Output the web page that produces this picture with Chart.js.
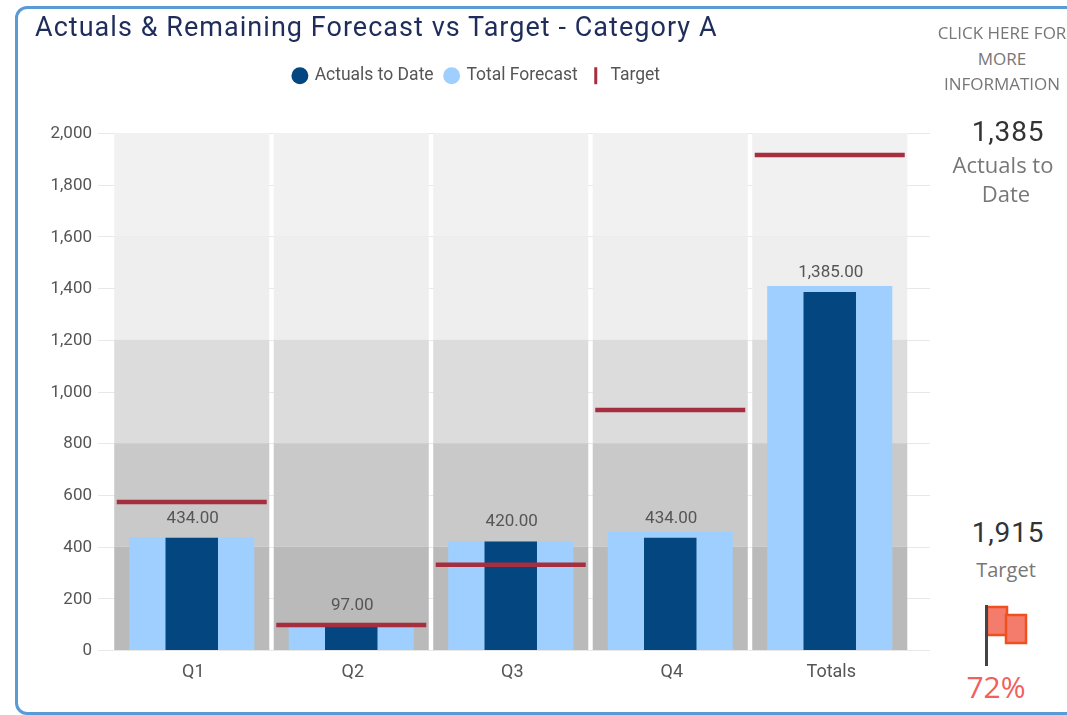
<!DOCTYPE html>
<html><head><meta charset="utf-8">
<script src="https://cdn.jsdelivr.net/npm/chart.js@4/dist/chart.umd.min.js"></script>
<style>
html,body{margin:0;padding:0;background:#fff;width:1067px;height:715px;overflow:hidden;font-family:Roboto,sans-serif}
#frame{position:absolute;left:15px;top:6px;width:1100px;height:703px;border:3px solid #5b9bd5;border-radius:12px;box-sizing:content-box}
#c{position:absolute;left:0;top:0}
.t{position:absolute;white-space:nowrap;transform:translate(-50%,-50%);line-height:1}
#title{position:absolute;left:35px;top:27px;transform:translateY(-50%);font-size:27px;color:#1f2d5a;white-space:nowrap;line-height:1;letter-spacing:1.04px}
</style></head><body>
<div id="frame"></div>
<canvas id="c" width="954" height="715" style="width:954px;height:715px"></canvas>
<div id="title">Actuals &amp; Remaining Forecast vs Target - Category A</div>
<div class="t" style="left:1002px;top:32px;font-size:17px;color:#777;font-family:'Open Sans'">CLICK HERE FOR</div>
<div class="t" style="left:1002px;top:58px;font-size:17px;color:#777;font-family:'Open Sans'">MORE</div>
<div class="t" style="left:1002px;top:83px;font-size:17px;color:#777;font-family:'Open Sans'">INFORMATION</div>
<div class="t" style="left:1008px;top:132px;font-size:28px;color:#333;letter-spacing:.8px">1,385</div>
<div class="t" style="left:1003px;top:164px;font-size:22px;color:#777;font-family:'Open Sans'">Actuals to</div>
<div class="t" style="left:1006px;top:193px;font-size:22px;color:#777;font-family:'Open Sans'">Date</div>
<div class="t" style="left:1008px;top:533px;font-size:28px;color:#333;letter-spacing:.8px">1,915</div>
<div class="t" style="left:1006px;top:570px;font-size:20px;color:#777;font-family:'Open Sans'">Target</div>
<svg style="position:absolute;left:980px;top:600px" width="54" height="70">
<rect x="7" y="7" width="20" height="28" fill="#f47c6c" stroke="#f0501e" stroke-width="2.5"/>
<rect x="26" y="15" width="20" height="28" fill="#f47c6c" stroke="#f0501e" stroke-width="2.5"/>
<rect x="5" y="5" width="3" height="61" fill="#444"/>
</svg>
<div class="t" style="left:996px;top:687px;font-size:30px;color:#f0605f;font-family:'Open Sans'">72%</div>
<script>
const categories = ['Q1','Q2','Q3','Q4','Totals'];
const actualsToDate = [434,97,420,434,1385];
const totalForecast = [437,88,421,458,1408];
const target = [573,97,330,928,1915];
const valueLabels = ['434.00','97.00','420.00','434.00','1,385.00'];
const bandEdges = [0,400,800,1200,1600,2000];
const bandColors = ['#bababa','#c9c9c9','#dcdcdc','#eeeeee','#f1f1f1'];

const bandDatasets = bandColors.map((col,b)=>({
  type:'bar', label:'band'+b, order:10, grouped:false,
  data:categories.map(()=>[bandEdges[b],bandEdges[b+1]]),
  backgroundColor:col, barPercentage:.972, categoryPercentage:1
}));

const extendGrid = {
  id:'extendGrid',
  beforeDatasetsDraw(chart){
    const {ctx,scales:{y}}=chart;
    ctx.save(); ctx.strokeStyle='#e8e8e8'; ctx.lineWidth=1;
    y.ticks.forEach(t=>{
      const p=Math.round(y.getPixelForValue(t.value))+.5;
      ctx.beginPath(); ctx.moveTo(98,p); ctx.lineTo(930,p); ctx.stroke();
    });
    ctx.restore();
  }
};
const valueLabelPlugin = {
  id:'valueLabelPlugin',
  afterDatasetsDraw(chart){
    const {ctx,scales:{x,y}}=chart;
    ctx.save(); ctx.font='17px Roboto'; ctx.fillStyle='#555';
    ctx.textAlign='center'; ctx.textBaseline='middle';
    valueLabels.forEach((s,i)=>{
      ctx.fillText(s,x.getPixelForValue(i)+1,y.getPixelForValue(actualsToDate[i])-19.5);
    });
    ctx.restore();
  }
};
const legendHeight = {
  id:'legendHeight',
  beforeInit(chart){
    const l=chart.legend, f=l.fit;
    l.fit=function(){ f.call(this); this.height=78; };
  }
};

new Chart(document.getElementById('c'),{
  data:{labels:categories,datasets:[
    ...bandDatasets,
    {type:'bar',label:'Total Forecast',order:3,grouped:false,data:totalForecast,backgroundColor:'#9fcfff',barPercentage:.784,categoryPercentage:1},
    {type:'bar',label:'Actuals to Date',order:2,grouped:false,data:actualsToDate,backgroundColor:'#04467f',barPercentage:.329,categoryPercentage:1},
    {type:'line',label:'Target',order:1,clip:false,data:target,showLine:false,pointStyle:'line',pointRadius:75,pointHoverRadius:75,pointBorderColor:'#a52f3f',pointBackgroundColor:'#a52f3f',pointBorderWidth:4.5}
  ]},
  options:{
    responsive:false,animation:false,
    layout:{autoPadding:false,padding:{top:55,left:0,right:0,bottom:0}},
    plugins:{
      tooltip:{enabled:false},
      legend:{display:true,position:'top',align:'center',
        labels:{usePointStyle:true,boxWidth:12,boxHeight:12,padding:12,color:'#555',font:{family:'Roboto',size:17.5},
          generateLabels(){return [
            {text:'Actuals to Date',fillStyle:'#04467f',strokeStyle:'#04467f',lineWidth:0,pointStyle:'circle',fontColor:'#555'},
            {text:'Total Forecast',fillStyle:'#9fcfff',strokeStyle:'#9fcfff',lineWidth:0,pointStyle:'circle',fontColor:'#555'},
            {text:'Target',fillStyle:'#a52f3f',strokeStyle:'#a52f3f',lineWidth:3,pointStyle:'line',rotation:90,fontColor:'#555'}
          ];}
        }
      }
    },
    scales:{
      x:{grid:{display:false},border:{display:false},offset:true,
        ticks:{color:'#555',font:{family:'Roboto',size:18},padding:4,labelOffset:1.5,maxRotation:0},
        afterFit(s){s.height=65;}},
      y:{min:0,max:2000,grid:{display:false},border:{display:false},
        ticks:{stepSize:200,color:'#555',font:{family:'Roboto',size:17},padding:12,labelOffset:1,
          callback:v=>v.toLocaleString('en-US')},
        afterFit(s){s.width=112;}},
      yRightGutter:{position:'right',min:0,max:2000,grid:{display:false},border:{display:false},
        ticks:{display:false},
        afterFit(s){s.width=44.5;}}
    }
  },
  plugins:[legendHeight,extendGrid,valueLabelPlugin]
});
</script>
</body></html>
